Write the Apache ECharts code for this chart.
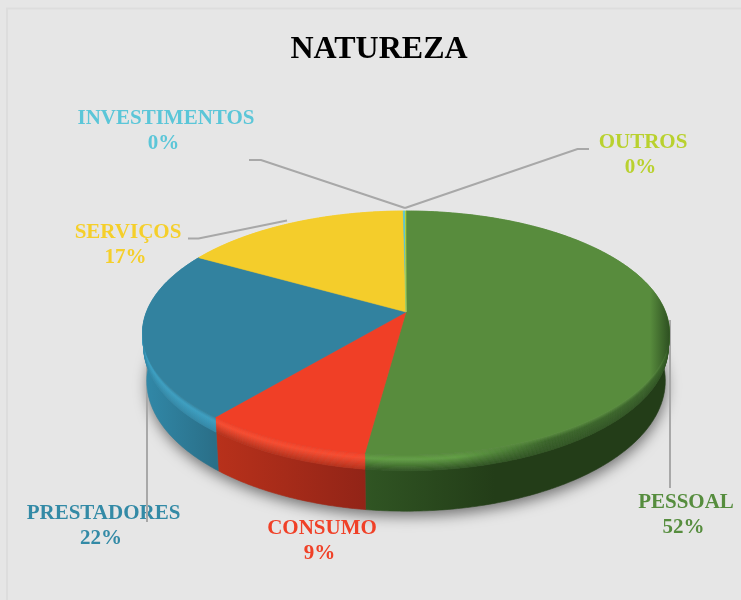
<!DOCTYPE html>
<html>
<head>
<meta charset="utf-8">
<title>NATUREZA</title>
<script src="https://cdn.jsdelivr.net/npm/echarts@6/dist/echarts.min.js"></script>
<style>
  html, body { margin: 0; padding: 0; background: #e6e6e6; }
  #main { width: 741px; height: 600px; }
</style>
</head>
<body>
<div id="main"></div>
<script>
// clockwise from 12 o'clock, same order as the original chart
const names = ['PESSOAL', 'CONSUMO', 'PRESTADORES', 'SERVIÇOS', 'INVESTIMENTOS', 'OUTROS']
const values = [52.1, 8.9, 22.3, 16.5, 0.15, 0.05]

const faceColors = ['#588c3d', '#f03f26', '#32829f', '#f4cd2b', '#5bc6d8', '#b9d12e']
const rimColors = ['#62a044', '#fa4c30', '#3ba1c4', '#f4cd2b', '#5bc6d8', '#b9d12e']
const rimRight = ['#3a6529', '#fa4c30', '#3ba1c4', '#f4cd2b', '#5bc6d8', '#b9d12e']
const wallLeft = ['#305523', '#b8311b', '#3189a9', '#b89a20', '#4596a3', '#8c9e22']
const wallRight = ['#233d18', '#922417', '#2a6f88', '#b89a20', '#4596a3', '#8c9e22']
const labelColors = ['#568d3e', '#f04027', '#338aa6', '#f5cf2a', '#5bc6d8', '#b9d12e']

// label centre and leader line for every slice, pixels
const labelPos = [[686, 515.5], [322, 541.5], [103.5, 526.5], [128, 245.5], [166, 131.5], [643, 155.5]]
const leaders = [
  [[670, 320], [670, 488]],
  [],
  [[147, 360], [147, 522]],
  [[188, 238.5], [198.5, 238.5], [287, 220.5]],
  [[249, 160], [261, 160], [405, 208]],
  [[405, 208], [577.5, 149], [589, 149]]
]

// projection of the tilted disc, apex is the image of the circle centre
const cx = 406
const apexY = 312
const farY = 211
const nearY = 455
const halfW = 263.5
const wallDepth = 46.5
const bevelDepth = 13
const persp = -(farY + nearY - 2 * apexY) / (nearY - farY)
const yCoef = (apexY - farY) + persp * farY
const kx = halfW * Math.sqrt(1 - persp * persp)

const total = values.reduce((a, b) => a + b, 0)
const starts = []
values.reduce((acc, v, i) => { starts[i] = acc; return acc + v }, 0)

function project (theta, drop) {
  const u = Math.sin(theta)
  const v = -Math.cos(theta)
  const den = 1 + persp * v
  const shrink = 1 - 0.016 * drop / wallDepth
  return [
    cx + kx * u / den * shrink,
    (yCoef * v + apexY) / den + drop / den
  ]
}

function arcPoints (i, drop) {
  const a0 = starts[i] / total * Math.PI * 2
  const a1 = (starts[i] + values[i]) / total * Math.PI * 2
  const n = Math.max(2, Math.ceil((a1 - a0) / 0.01))
  const pts = []
  for (let k = 0; k <= n; k++) {
    pts.push(project(a0 + (a1 - a0) * k / n, drop))
  }
  return pts
}

function band (i, d0, d1, fill) {
  const points = arcPoints(i, d0).concat(arcPoints(i, d1).reverse())
  return {
    type: 'polygon',
    shape: { points: points },
    style: { fill: fill, stroke: fill, lineWidth: 0.6 }
  }
}

function mix (c1, c2, t) {
  const p = c => [1, 3, 5].map(k => parseInt(c.substr(k, 2), 16))
  const a = p(c1)
  const b = p(c2)
  return 'rgb(' + a.map((x, k) => Math.round(x + (b[k] - x) * t)).join(',') + ')'
}

function hGradient (x0, x1, stops) {
  return {
    type: 'linear',
    x: x0,
    y: 0,
    x2: x1,
    y2: 0,
    global: true,
    colorStops: stops
  }
}

function bevelColor (i, rim, t) {
  return t < 0.3
    ? mix(faceColors[i], rim, t / 0.3)
    : mix(rim, wallLeft[i], (t - 0.3) / 0.7)
}

function renderWall (params) {
  const i = params.dataIndex
  const children = []
  const xs = arcPoints(i, 0).map(p => p[0])
  const x0 = Math.min.apply(null, xs)
  const x1 = Math.max.apply(null, xs)
  const wallEnd = i === 0 ? x0 + 130 : x1
  // body of the wall
  children.push(band(i, bevelDepth, wallDepth, hGradient(x0, wallEnd, [
    { offset: 0, color: wallLeft[i] },
    { offset: 1, color: wallRight[i] }
  ])))
  // bevel, face colour -> highlight -> wall colour, highlight fades on the pessoal side
  const steps = 14
  for (let s = 0; s < steps; s++) {
    const t = (s + 0.5) / steps
    const fill = hGradient(x0, x1, [
      { offset: 0.3, color: bevelColor(i, rimColors[i], t) },
      { offset: 0.6, color: bevelColor(i, rimRight[i], t) }
    ])
    children.push(band(i, bevelDepth * s / steps, bevelDepth * (s + 1) / steps, fill))
  }
  return { type: 'group', children: children }
}

function renderFace (params) {
  const i = params.dataIndex
  const points = [[cx, apexY]].concat(arcPoints(i, 0))
  let fill = faceColors[i]
  // edge shading where the disc turns away on the right
  if (i === 0) {
    fill = hGradient(650, 669, [
      { offset: 0, color: faceColors[0] },
      { offset: 1, color: '#2f5222' }
    ])
  }
  return {
    type: 'polygon',
    shape: { points: points },
    style: { fill: fill, stroke: fill, lineWidth: 0.5 }
  }
}

function renderShadow () {
  const pts = []
  for (let k = 0; k < 180; k++) {
    pts.push(project(k / 180 * Math.PI * 2, wallDepth))
  }
  return {
    type: 'polygon',
    shape: { points: pts },
    style: {
      fill: '#888888',
      shadowBlur: 14,
      shadowColor: 'rgba(0,0,0,0.5)',
      shadowOffsetX: 1,
      shadowOffsetY: 5
    }
  }
}

function renderLabel (params) {
  const i = params.dataIndex
  return {
    type: 'text',
    x: labelPos[i][0],
    y: labelPos[i][1],
    style: {
      // the percent line sits a little left of the name in the original
      text: names[i] + '\n' + Math.round(values[i] / total * 100) + '% ',
      fill: labelColors[i],
      font: 'bold 21px "Liberation Serif"',
      lineHeight: 25,
      align: 'center',
      verticalAlign: 'middle'
    }
  }
}

function renderLeader (params) {
  const pts = leaders[params.dataIndex]
  if (!pts.length) return null
  return {
    type: 'polyline',
    shape: { points: pts },
    style: { fill: 'none', stroke: '#a8a8a8', lineWidth: 2 }
  }
}

function layer (z, renderItem, data) {
  return {
    type: 'custom',
    coordinateSystem: 'none',
    silent: true,
    z: z,
    clip: false,
    renderItem: renderItem,
    data: data || names.map((n, i) => ({ name: n, value: values[i] }))
  }
}

const chart = echarts.init(document.getElementById('main'))
chart.setOption({
  animation: false,
  backgroundColor: '#e6e6e6',
  title: {
    text: 'NATUREZA',
    left: 374,
    top: 29,
    textAlign: 'center',
    textStyle: {
      fontFamily: 'Liberation Serif',
      fontWeight: 'bold',
      fontSize: 32,
      color: '#000000'
    }
  },
  graphic: [{
    type: 'rect',
    silent: true,
    shape: { x: 7, y: 8.5, width: 760, height: 620 },
    style: { fill: 'none', stroke: '#dddddd', lineWidth: 2 }
  }],
  series: [
    layer(1, renderShadow, [1]),
    layer(2, renderLabel),
    layer(3, renderLeader),
    layer(4, renderWall),
    layer(5, renderFace)
  ]
})
</script>
</body>
</html>
